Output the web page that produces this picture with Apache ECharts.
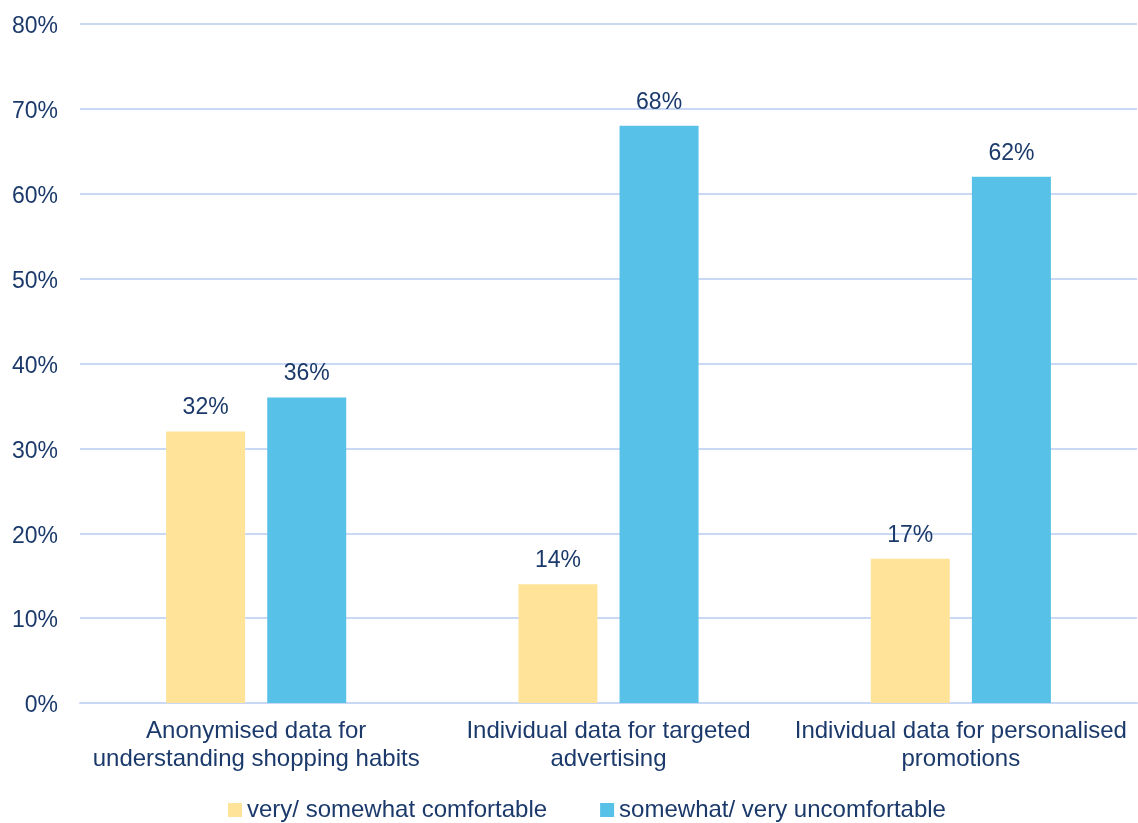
<!DOCTYPE html>
<html>
<head>
<meta charset="utf-8">
<script src="https://cdn.jsdelivr.net/npm/echarts@6/dist/echarts.min.js"></script>
<style>
  html, body { margin: 0; padding: 0; background: #fff; }
  #chart { width: 1138px; height: 823px; }
</style>
</head>
<body>
<div id="chart"></div>
<script>
// Survey: comfort with how retailers use shopping data
const categories = [
  'Anonymised data for\nunderstanding shopping habits',
  'Individual data for targeted\nadvertising',
  'Individual data for personalised\npromotions'
];
const comfortable = [32, 14, 17];
const uncomfortable = [36, 68, 62];
const seriesNames = ['very/ somewhat comfortable', 'somewhat/ very uncomfortable'];

const textColor = '#1B3A6B';
const gridColor = '#C9D9F5';
const fontFamily = 'Liberation Sans, Arial, sans-serif';

const chart = echarts.init(document.getElementById('chart'), null, { renderer: 'canvas' });

const valueLabel = {
  show: true,
  position: 'top',
  distance: 12,
  formatter: '{c}%',
  color: textColor,
  fontSize: 23,
  fontFamily: fontFamily
};

chart.setOption({
  animation: false,
  backgroundColor: '#fff',
  grid: { left: 80, right: 1, top: 24, bottom: 120, containLabel: false },
  legend: {
    top: 798,
    left: 228,
    padding: 0,
    icon: 'rect',
    itemWidth: 14,
    itemHeight: 14,
    itemGap: 53,
    textStyle: { color: textColor, fontSize: 24, fontFamily: fontFamily },
    data: seriesNames
  },
  xAxis: {
    type: 'category',
    data: categories,
    axisLine: { show: true, lineStyle: { color: gridColor, width: 2 } },
    axisTick: { show: false },
    axisLabel: {
      color: textColor,
      fontSize: 24,
      fontFamily: fontFamily,
      lineHeight: 28,
      margin: 14,
      interval: 0
    }
  },
  yAxis: {
    type: 'value',
    min: 0,
    max: 80,
    interval: 10,
    axisLine: { show: false },
    axisTick: { show: false },
    axisLabel: {
      formatter: function (v) { return '{t|' + v + '%}'; },
      margin: 22,
      rich: {
        t: {
          color: textColor,
          fontSize: 23,
          fontFamily: fontFamily,
          padding: [6, 0, 0, 0]
        }
      }
    },
    splitLine: { lineStyle: { color: gridColor, width: 2 } }
  },
  series: [
    {
      name: seriesNames[0],
      type: 'bar',
      data: comfortable,
      barWidth: 79,
      barGap: '28%',
      itemStyle: { color: '#FFE399' },
      label: valueLabel
    },
    {
      name: seriesNames[1],
      type: 'bar',
      data: uncomfortable,
      barWidth: 79,
      barGap: '28%',
      itemStyle: { color: '#57C1E8' },
      label: valueLabel
    }
  ]
});
</script>
</body>
</html>
